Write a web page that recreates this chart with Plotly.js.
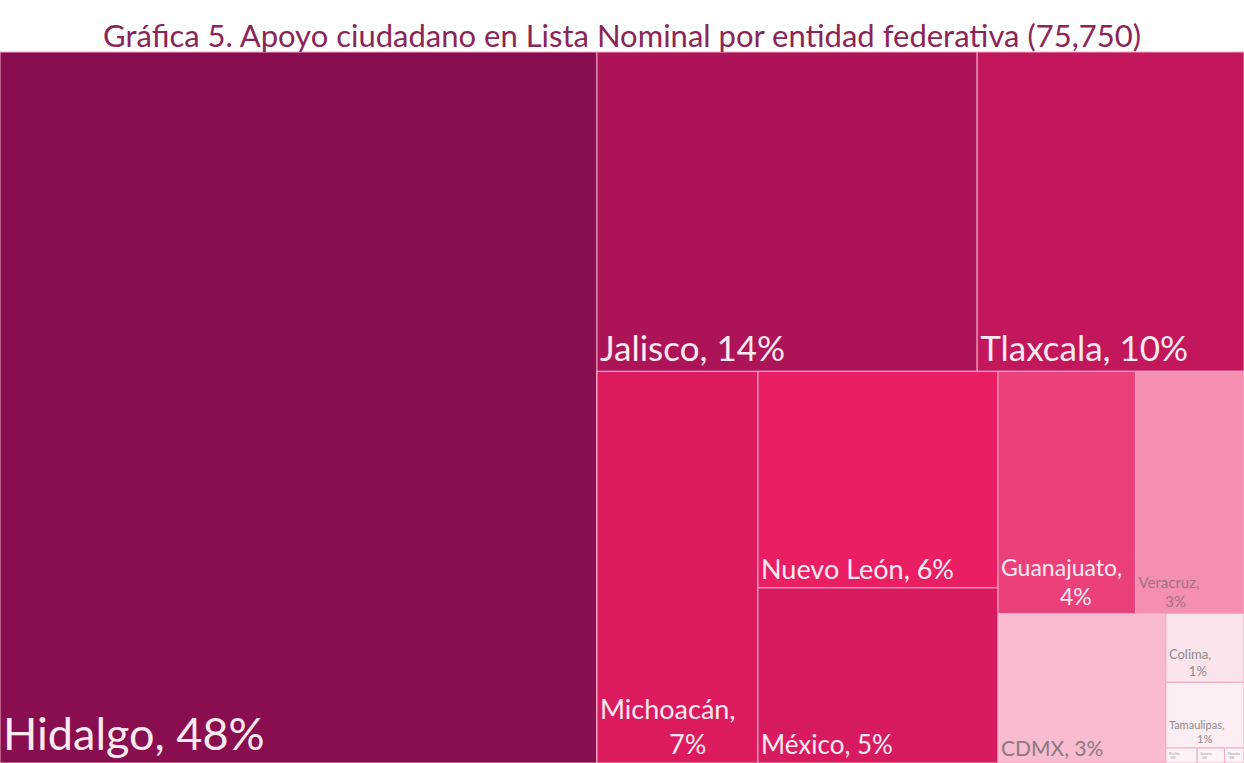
<!DOCTYPE html>
<html>
<head>
<meta charset="utf-8">
<script src="https://cdn.plot.ly/plotly-3.0.1.min.js"></script>
<style>html,body{margin:0;padding:0;background:#fff;}#chart{width:1244px;height:763px;}</style>
</head>
<body>
<div id="chart"></div>
<script>
// ---- data ----
const total = 75750;
const estados = ["Hidalgo","Jalisco","Tlaxcala","Michoacán","Nuevo León","México","Guanajuato","Veracruz","CDMX","Colima","Tamaulipas","Puebla","Sonora","Morelos"];
const apoyos  = [36350,10400,7300,5400,4450,3600,2850,2250,2150,460,440,40,35,25];
// layout grouping (only used to arrange the tiles like the original)
const grupoDe  = ["","","","P","I","I","K","K","L","Q","Q","T","T","T"];
const grupos   = ["G","P","I","H","K","L","M","Q","T"];
const padreDe  = ["","G","P","G","H","H","L","M","M"];
// ---- styles ----
const colores = ["#880E4F","#AD1457","#C2185B","#DC1A5E","#E91E63","#D81B60","#EC407A","#F48FB1","#F8BBD0","#FCE4EC","#FDEEF3","#FEF4F7","#FEF4F7","#FEF4F7"];
const colorTexto = ["#FCEAF1","#FCEAF1","#FCEAF1","#FCEAF1","#FCEAF1","#FCEAF1","#FCEAF1","#A07088","#8A7A82","#8A8A8A","#8A8A8A","#999","#999","#999"];
const tamTexto = [45,35,35,27,27,26,23,15,21,13,11,5,5,5];
const sangria  = [0,0,0,10,0,0,10,7,0,6,10,2,2,2];

const nb = "\u00a0";
const textos = estados.map((e,i)=>{
  const p = Math.round(apoyos[i]/total*100) + "%";
  return sangria[i] > 0 ? e + ",<br>" + nb.repeat(sangria[i]) + p : e + ", " + p;
});

const ids = estados.concat(grupos);
const parents = grupoDe.concat(padreDe);
const values = apoyos.concat(grupos.map(()=>0));
const text = textos.concat(grupos.map(()=>""));
const cols = colores.concat(grupos.map(()=>"#F8BBD0"));
const tcol = colorTexto.concat(grupos.map(()=>"#fff"));
const tsz = tamTexto.concat(grupos.map(()=>8));

Plotly.newPlot("chart", [{
  type: "treemap",
  ids: ids,
  labels: ids,
  parents: parents,
  values: values,
  branchvalues: "remainder",
  text: text,
  texttemplate: "%{text}",
  textposition: "bottom left",
  textfont: {family: "Lato, 'Open Sans', sans-serif", size: tsz, color: tcol},
  marker: {colors: cols, line: {color: "#F5A9C5", width: 1}, pad: {t:0,l:0,r:0,b:0}},
  tiling: {packing: "squarify", squarifyratio: 1, pad: 0},
  pathbar: {visible: false},
  maxdepth: -1,
  sort: false,
  hoverinfo: "text"
}], {
  width: 1244, height: 763,
  margin: {l: 0, r: 0, t: 52, b: 0},
  paper_bgcolor: "#fff",
  title: {text: "Gráfica 5. Apoyo ciudadano en Lista Nominal por entidad federativa (75,750)",
          font: {family: "Lato, 'Open Sans', sans-serif", size: 31, color: "#8B2457"},
          x: 0.5, xanchor: "center", y: 0.953, yanchor: "middle"},
  uniformtext: {mode: false}
}, {displayModeBar: false, staticPlot: true});
</script>
</body>
</html>
